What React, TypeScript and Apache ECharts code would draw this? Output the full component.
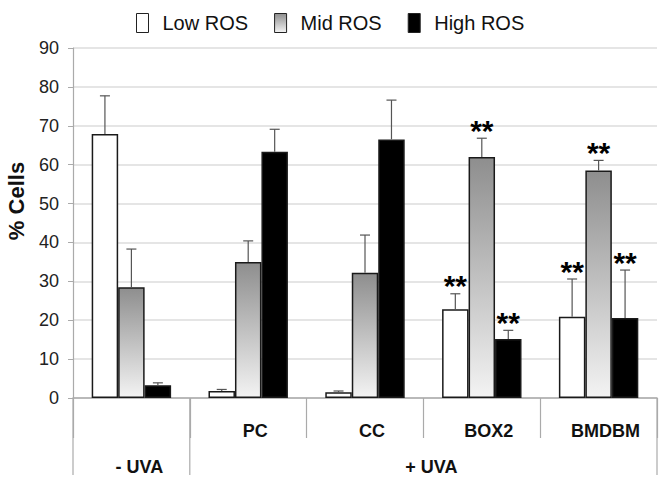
import React, { useEffect, useRef } from "react";
import * as echarts from "echarts";

const categories = ["", "PC", "CC", "BOX2", "BMDBM"];
const groupLabels = ["- UVA", "+ UVA"];
const groupFrom = [0, 1];
const groupTo = [0, 4];
const seriesNames = ["Low ROS", "Mid ROS", "High ROS"];
const lowROS = [67.9, 1.8, 1.5, 22.8, 20.9];
const lowErr = [9.8, 0.4, 0.3, 4.0, 9.7];
const midROS = [28.5, 35.0, 32.2, 62.0, 58.5];
const midErr = [9.8, 5.4, 9.7, 4.8, 2.6];
const highROS = [3.3, 63.3, 66.5, 15.2, 20.6];
const highErr = [0.6, 5.8, 10.1, 2.2, 12.3];
const lowStar = [false, false, false, true, true];
const midStar = [false, false, false, true, true];
const highStar = [false, false, false, true, true];
const yTicks = { min: 0, max: 90, interval: 10 };

const FONT = "Liberation Sans, Arial, sans-serif";
const CAT_GAP = 0.32;

const midGradient = () =>
  new echarts.graphic.LinearGradient(0, 0, 0, 1, [
    { offset: 0, color: "#8e8e8e" },
    { offset: 1, color: "#f3f3f3" },
  ]);

const fills = [() => "#ffffff", midGradient, () => "#000000"];

export default function App() {
  const ref = useRef<HTMLDivElement>(null);
  useEffect(() => {
    if (!ref.current) return;
    const chart = echarts.init(ref.current, null, { renderer: "svg" });
    const values = [lowROS, midROS, highROS];
    const errs = [lowErr, midErr, highErr];
    const stars = [lowStar, midStar, highStar];

    const barSeries = seriesNames.map((name, si) => ({
      name,
      type: "bar",
      data: values[si],
      barGap: "0%",
      barCategoryGap: CAT_GAP * 100 + "%",
      itemStyle: { color: fills[si](), borderColor: "#1a1a1a", borderWidth: 1.5 },
      z: 2,
    }));

    const errSeries = seriesNames.map((name, si) => ({
      type: "custom",
      name: name + " err",
      z: 3,
      data: values[si].map((v, i) => [i, v, v + errs[si][i], stars[si][i] ? 1 : 0]),
      renderItem: (params: any, api: any) => {
        const idx = api.value(0);
        const lo = api.coord([idx, api.value(1)]);
        const hi = api.coord([idx, api.value(2)]);
        const catW = api.size([1, 0])[0];
        const bw = (catW * (1 - CAT_GAP)) / 3;
        const x = lo[0] + (si - 1) * bw;
        const children: any[] = [
          { type: "line", shape: { x1: x, y1: lo[1], x2: x, y2: hi[1] }, style: { stroke: "#555", lineWidth: 1.2 } },
          { type: "line", shape: { x1: x - 5, y1: hi[1], x2: x + 5, y2: hi[1] }, style: { stroke: "#555", lineWidth: 1.2 } },
        ];
        if (api.value(3) === 1) {
          children.push({
            type: "text",
            x,
            y: hi[1] - 8,
            style: {
              text: "**",
              font: "bold 30px " + FONT,
              fill: "#000",
              align: "center",
              verticalAlign: "middle",
            },
          });
        }
        return { type: "group", children };
      },
    }));

    const option: any = {
      animation: false,
      backgroundColor: "#ffffff",
      legend: {
        top: 8,
        left: 131,
        icon: "rect",
        itemWidth: 12,
        itemHeight: 19,
        itemGap: 26,
        textStyle: { fontSize: 20, color: "#111", fontFamily: FONT, padding: [0, 0, 0, 9] },
        data: [
          { name: "Low ROS", itemStyle: { color: "#fff", borderColor: "#222", borderWidth: 1 } },
          { name: "Mid ROS", itemStyle: { color: midGradient(), borderColor: "#222", borderWidth: 1 } },
          { name: "High ROS", itemStyle: { color: "#000", borderColor: "#222", borderWidth: 1 } },
        ],
      },
      grid: { left: 73, right: 7, top: 48, bottom: 85, containLabel: false },
      xAxis: {
        type: "category",
        data: categories,
        axisLine: { lineStyle: { color: "#aaaaaa", width: 1.5 } },
        axisTick: { show: true, length: 40, interval: 0, lineStyle: { color: "#aaaaaa", width: 1.2 } },
        axisLabel: {
          interval: 0,
          margin: 24,
          fontSize: 18,
          fontWeight: "bold",
          color: "#111",
          fontFamily: FONT,
          padding: [0, 0, 0, 14],
        },
        splitLine: { show: false },
      },
      yAxis: {
        type: "value",
        min: yTicks.min,
        max: yTicks.max,
        interval: yTicks.interval,
        axisLine: { show: true, lineStyle: { color: "#aaaaaa", width: 1.2 } },
        axisTick: { show: true, length: 5, lineStyle: { color: "#aaaaaa" } },
        axisLabel: { fontSize: 18, color: "#222", fontFamily: FONT, margin: 14 },
        splitLine: { lineStyle: { color: "#dcdcdc", width: 1.5 } },
      },
      series: [...barSeries, ...errSeries],
    };
    chart.setOption(option);

    const c0 = chart.convertToPixel({ xAxisIndex: 0 }, 0) as number;
    const c1 = chart.convertToPixel({ xAxisIndex: 0 }, 1) as number;
    const y0 = chart.convertToPixel({ yAxisIndex: 0 }, 0) as number;
    const catW = c1 - c0;
    const b = (k: number) => c0 - catW / 2 + k * catW;
    const longTicks = [0, 1, categories.length];
    const graphic: any[] = longTicks.map((k) => ({
      type: "line",
      shape: { x1: b(k), y1: y0, x2: b(k), y2: y0 + 77 },
      style: { stroke: "#aaaaaa", lineWidth: 1.2 },
      silent: true,
    }));
    groupLabels.forEach((g, gi) => {
      graphic.push({
        type: "text",
        x: (b(groupFrom[gi]) + b(groupTo[gi] + 1)) / 2 + 8,
        y: y0 + 69,
        style: {
          text: g,
          font: "bold 18px " + FONT,
          fill: "#111",
          align: "center",
          verticalAlign: "middle",
        },
      });
    });
    graphic.push({
      type: "text",
      x: 16,
      y: 201,
      rotation: Math.PI / 2,
      style: {
        text: "% Cells",
        font: "bold 22px " + FONT,
        fill: "#111",
        align: "center",
        verticalAlign: "middle",
      },
    });
    chart.setOption({ graphic });

    return () => chart.dispose();
  }, []);
  return <div ref={ref} style={{ width: 664, height: 483, position: "absolute", left: 0, top: 0 }} />;
}
